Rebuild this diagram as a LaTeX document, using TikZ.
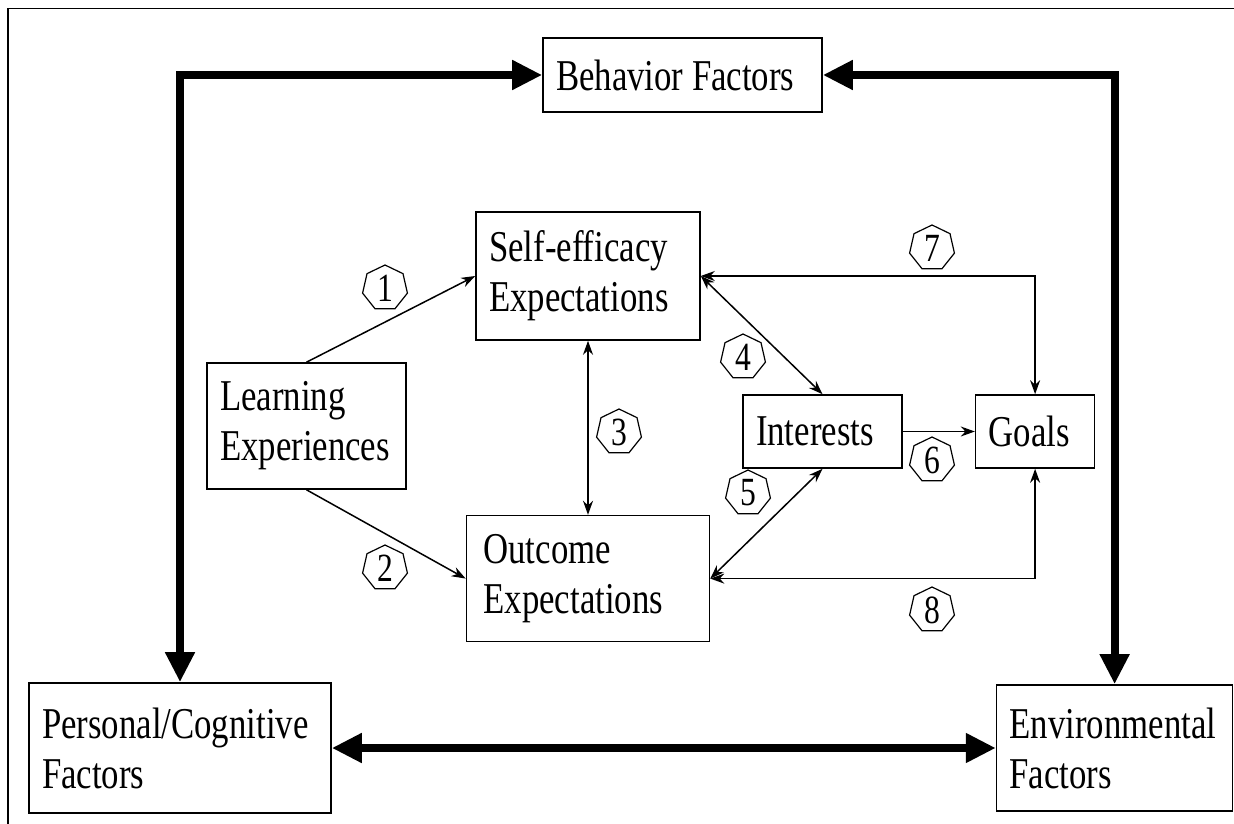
\documentclass[tikz,border=0pt]{standalone}
\usepackage{fontspec}
\setmainfont{Liberation Serif}[FakeStretch=0.79]
\usepackage{tikz}
\usetikzlibrary{arrows.meta,shapes.geometric,positioning}
\hyphenpenalty=10000

\begin{document}
\begin{tikzpicture}[
		x=1pt, y=-1pt,
		>={Stealth[length=7pt,width=5pt]},
		every node/.style = {font=\fontsize{22}{25}\selectfont},
		factor/.style = {draw, line width=0.8pt, inner xsep=6.5pt, inner ysep=0pt, align=flush left},
		num/.style = {draw, regular polygon, regular polygon sides=7, minimum size=23pt, inner sep=0pt, line width=0.6pt, font=\fontsize{20}{20}\selectfont},
		link/.style = {line width=0.75pt},
		biglink/.style = {line width=4pt, {Triangle[length=15pt,width=14pt]}-{Triangle[length=15pt,width=14pt]}}
		]
		\useasboundingbox (0,0) rectangle (617,411.5);
		\draw[line width=0.9pt] (4,412) -- (4,4.25) -- (617,4.25);
		
		% Factors -------------------------------------------------------
		\node[factor, text width=126.5pt, minimum height=37pt] (behav) at (341.25,37.5) {Behavior Factors};
		\node[factor, text width=138pt, minimum height=65pt] (pers) at (90,374) {Personal/Cognitive\\Factors};
		\node[factor, text width=105pt, minimum height=63pt, right=332pt of pers] (envi) {Environmental\\Factors};
		
		% Inner model ---------------------------------------------------
		\node[factor, text width=86.5pt, minimum height=63pt] (learn) at (153.25,213) {Learning\\Experiences};
		\node[factor, text width=99pt, minimum height=64pt] (self) at (294,138) {Self-efficacy\\Expectations};
		\node[factor, text width=104.5pt, inner xsep=8.5pt, minimum height=63pt, below=87pt of self] (outc) {Outcome\\Expectations};
		\node[factor, text width=66.5pt, minimum height=36.5pt] (inter) at (411.25,215.75) {Interests};
		\node[factor, text width=46.5pt, minimum height=36.5pt, right=36pt of inter] (goals) {Goals};
		
		% Path numbers --------------------------------------------------
		\node[num] (n1) at (192.5,144) {1};
		\node[num] (n2) at (192.5,284) {2};
		\node[num] (n3) at (309.5,216) {3};
		\node[num] (n4) at (371.5,178.5) {4};
		\node[num] (n5) at (374,246.5) {5};
		\node[num] (n6) at (466,230) {6};
		\node[num] (n7) at (466,124) {7};
		\node[num] (n8) at (466,305) {8};
		
		% Arrows --------------------------------------------------------
		\draw[biglink] (behav.west) -| (pers.north);
		\draw[biglink] (behav.east) -| (envi.north);
		\draw[biglink] (pers.east)  -- (envi.west);
		\draw[link, ->]  (learn.north) -- (self.west);
		\draw[link, ->]  (learn.south) -- (outc.west);
		\draw[link, <->] (self.south) -- (self.south |- outc.north);
		\draw[link, <->] (self.east)  -- (inter.north);
		\draw[link, <->] (outc.east)  -- (inter.south);
		\draw[link, ->]  (inter)      -- (goals);
		\draw[link, <->] (self.east)  -| (goals.north);  % long way round
		\draw[link, <->] (outc.east)  -| (goals.south);
	\end{tikzpicture}
\end{document}
